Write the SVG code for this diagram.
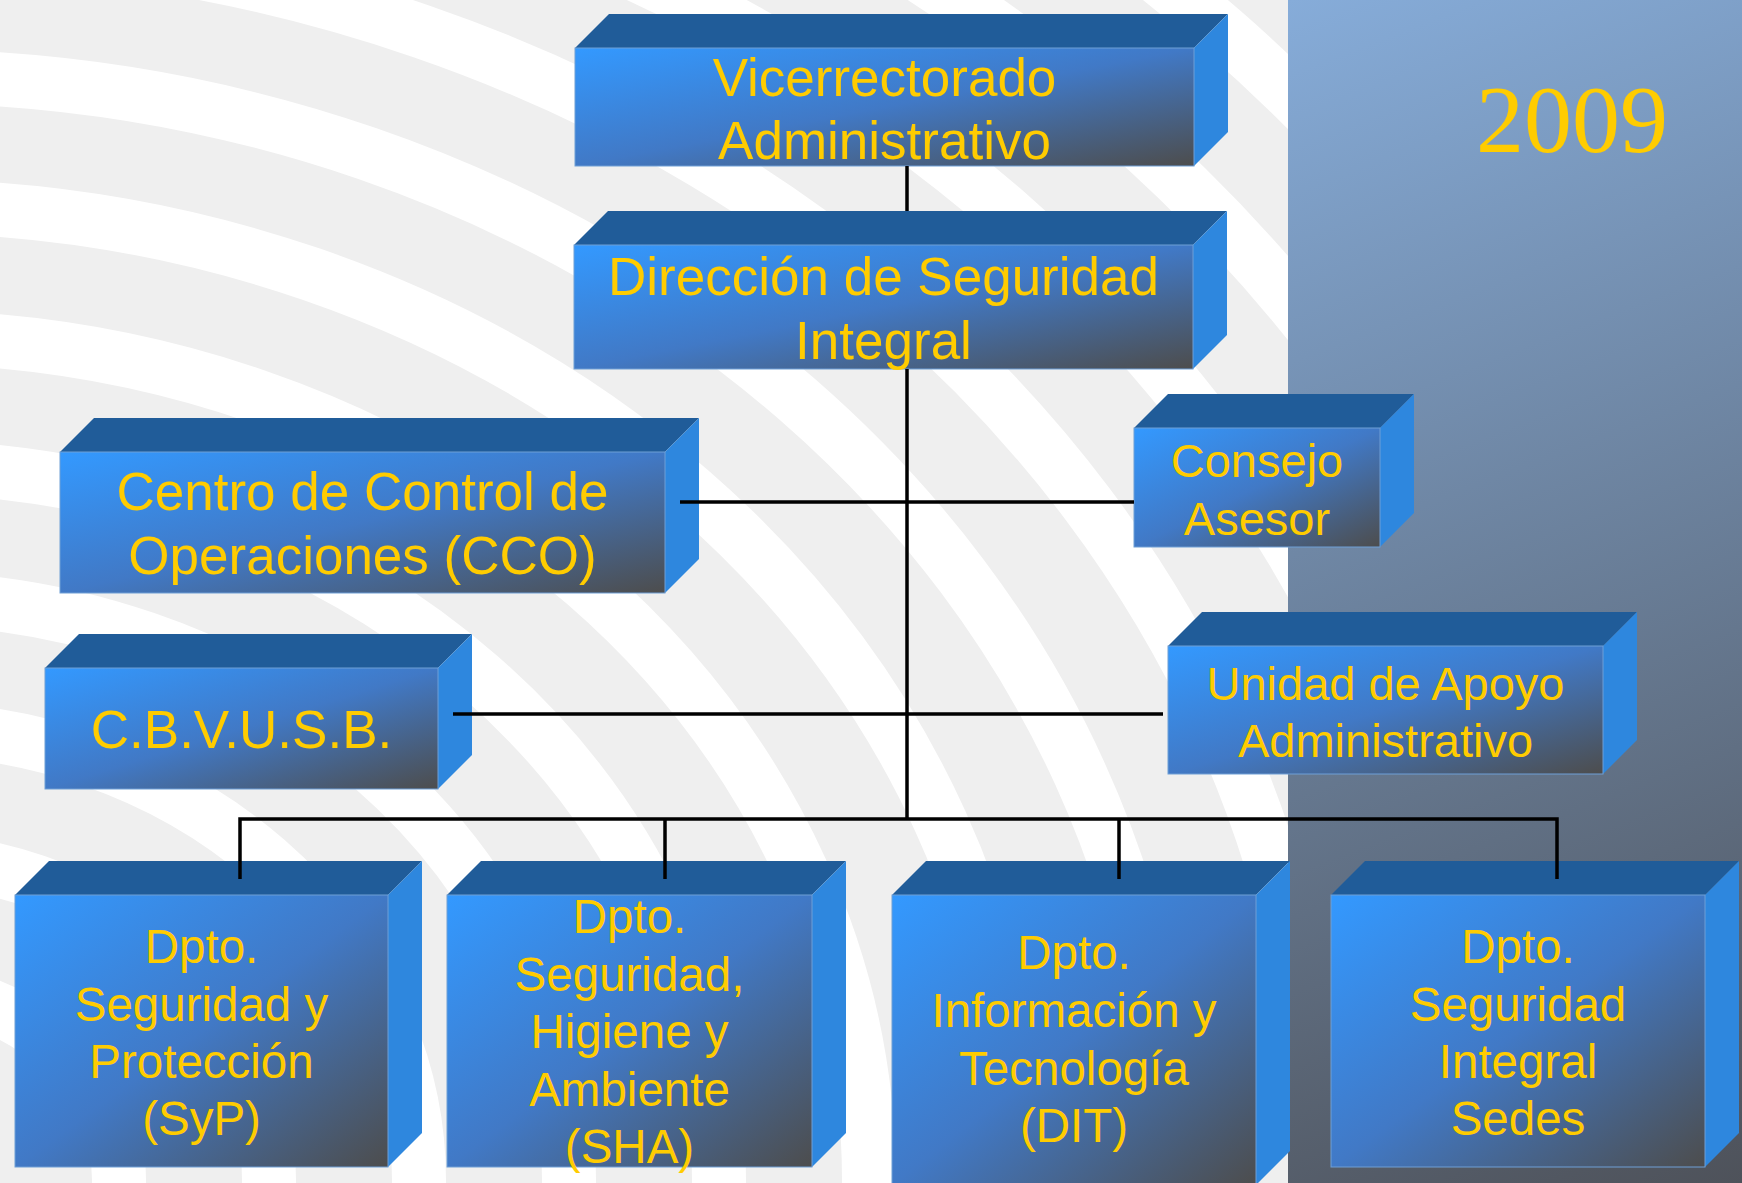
<svg xmlns="http://www.w3.org/2000/svg" width="1742" height="1183" viewBox="0 0 1742 1183">
<defs>
<linearGradient id="front" x1="0" y1="0" x2="1" y2="1">
<stop offset="0" stop-color="#3399ff"/>
<stop offset="0.5" stop-color="#4179c6"/>
<stop offset="1" stop-color="#4d4d4d"/>
</linearGradient>
<linearGradient id="panel" gradientUnits="userSpaceOnUse" x1="1288" y1="0" x2="1742" y2="1183">
<stop offset="0" stop-color="#86acd9"/>
<stop offset="1" stop-color="#4e525a"/>
</linearGradient>
</defs>
<style>
.top{fill:#205c99}
.side{fill:#2e87de}
.front{fill:url(#front);stroke:#6f9fd6;stroke-width:1}
.lbl{font-family:"Liberation Sans",Arial,sans-serif;fill:#ffcc00;text-anchor:middle}
.big{font-size:53px}
.mid{font-size:47px}
.sm{font-size:47.5px}
.conn{stroke:#000;stroke-width:3.5;fill:none}
.ring{fill:none;stroke:#ffffff;stroke-width:54}
</style>
<g id="background">
<rect x="0" y="0" width="1742" height="1183" fill="#efefef"/>
<g transform="translate(-100,1180)">
<ellipse class="ring" rx="219" ry="191"/>
<ellipse class="ring" rx="369" ry="321"/>
<ellipse class="ring" rx="519" ry="452"/>
<ellipse class="ring" rx="669" ry="582"/>
<ellipse class="ring" rx="819" ry="713"/>
<ellipse class="ring" rx="969" ry="843"/>
<ellipse class="ring" rx="1119" ry="974"/>
<ellipse class="ring" rx="1269" ry="1104"/>
<ellipse class="ring" rx="1419" ry="1235"/>
<ellipse class="ring" rx="1569" ry="1365"/>
<ellipse class="ring" rx="1719" ry="1496"/>
<ellipse class="ring" rx="1869" ry="1626"/>
<ellipse class="ring" rx="2019" ry="1757"/>
<ellipse class="ring" rx="2169" ry="1887"/>
</g>
<rect x="1288" y="0" width="454" height="1183" fill="url(#panel)"/>
<text x="1572" y="152" font-family="'Liberation Serif','Times New Roman',serif" font-size="96" fill="#ffcc00" text-anchor="middle">2009</text>
</g>
<g id="n-vicerrectorado">
<polygon class="top" points="575,48 609,14 1228,14 1194,48"/>
<polygon class="side" points="1194,48 1228,14 1228,132 1194,166"/>
<rect class="front" x="575" y="48" width="619" height="118"/>
<text class="lbl big" x="884.5" y="96">Vicerrectorado</text>
<text class="lbl big" x="884.5" y="159">Administrativo</text>
</g>
<g id="n-direccion">
<polygon class="top" points="574,245 608,211 1227,211 1193,245"/>
<polygon class="side" points="1193,245 1227,211 1227,335 1193,369"/>
<rect class="front" x="574" y="245" width="619" height="124"/>
<text class="lbl big" x="883.5" y="295">Dirección de Seguridad</text>
<text class="lbl big" x="883.5" y="359">Integral</text>
</g>
<g id="n-cco">
<polygon class="top" points="60,452 94,418 699,418 665,452"/>
<polygon class="side" points="665,452 699,418 699,559 665,593"/>
<rect class="front" x="60" y="452" width="605" height="141"/>
<text class="lbl big" x="362.5" y="510">Centro de Control de</text>
<text class="lbl big" x="362.5" y="574">Operaciones (CCO)</text>
</g>
<g id="n-cbvusb">
<polygon class="top" points="45,668 79,634 472,634 438,668"/>
<polygon class="side" points="438,668 472,634 472,755 438,789"/>
<rect class="front" x="45" y="668" width="393" height="121"/>
<text class="lbl big" x="241.5" y="748">C.B.V.U.S.B.</text>
</g>
<g id="n-consejo">
<polygon class="top" points="1134,428 1168,394 1414,394 1380,428"/>
<polygon class="side" points="1380,428 1414,394 1414,513 1380,547"/>
<rect class="front" x="1134" y="428" width="246" height="119"/>
<text class="lbl mid" x="1257" y="477">Consejo</text>
<text class="lbl mid" x="1257" y="535">Asesor</text>
</g>
<g id="n-unidad">
<polygon class="top" points="1168,646 1202,612 1637,612 1603,646"/>
<polygon class="side" points="1603,646 1637,612 1637,740 1603,774"/>
<rect class="front" x="1168" y="646" width="435" height="128"/>
<text class="lbl mid" x="1385.5" y="700">Unidad de Apoyo</text>
<text class="lbl mid" x="1385.5" y="757">Administrativo</text>
</g>
<g id="n-syp">
<polygon class="top" points="15,895 49,861 422,861 388,895"/>
<polygon class="side" points="388,895 422,861 422,1133 388,1167"/>
<rect class="front" x="15" y="895" width="373" height="272"/>
<text class="lbl sm" x="201.5" y="963">Dpto.</text>
<text class="lbl sm" x="201.5" y="1021">Seguridad y</text>
<text class="lbl sm" x="201.5" y="1078">Protección</text>
<text class="lbl sm" x="201.5" y="1135">(SyP)</text>
</g>
<g id="n-sha">
<polygon class="top" points="447,895 481,861 846,861 812,895"/>
<polygon class="side" points="812,895 846,861 846,1133 812,1167"/>
<rect class="front" x="447" y="895" width="365" height="272"/>
<text class="lbl sm" x="629.5" y="933">Dpto.</text>
<text class="lbl sm" x="629.5" y="991">Seguridad,</text>
<text class="lbl sm" x="629.5" y="1048">Higiene y</text>
<text class="lbl sm" x="629.5" y="1106">Ambiente</text>
<text class="lbl sm" x="629.5" y="1163">(SHA)</text>
</g>
<g id="n-dit">
<polygon class="top" points="892,895 926,861 1290,861 1256,895"/>
<polygon class="side" points="1256,895 1290,861 1290,1151 1256,1185"/>
<rect class="front" x="892" y="895" width="364" height="290"/>
<text class="lbl sm" x="1074" y="969">Dpto.</text>
<text class="lbl sm" x="1074" y="1027">Información y</text>
<text class="lbl sm" x="1074" y="1085">Tecnología</text>
<text class="lbl sm" x="1074" y="1142">(DIT)</text>
</g>
<g id="n-sedes">
<polygon class="top" points="1331,895 1365,861 1739,861 1705,895"/>
<polygon class="side" points="1705,895 1739,861 1739,1133 1705,1167"/>
<rect class="front" x="1331" y="895" width="374" height="272"/>
<text class="lbl sm" x="1518" y="963">Dpto.</text>
<text class="lbl sm" x="1518" y="1021">Seguridad</text>
<text class="lbl sm" x="1518" y="1078">Integral</text>
<text class="lbl sm" x="1518" y="1135">Sedes</text>
</g>
<g id="connectors">
<path class="conn" d="M907,166 V211"/>
<path class="conn" d="M907,369 V819"/>
<path class="conn" d="M680,502 H1134"/>
<path class="conn" d="M453,714 H1163"/>
<path class="conn" d="M240,879 V819 H1557 V879"/>
<path class="conn" d="M665,819 V879"/>
<path class="conn" d="M1119,819 V879"/>
</g>
</svg>
